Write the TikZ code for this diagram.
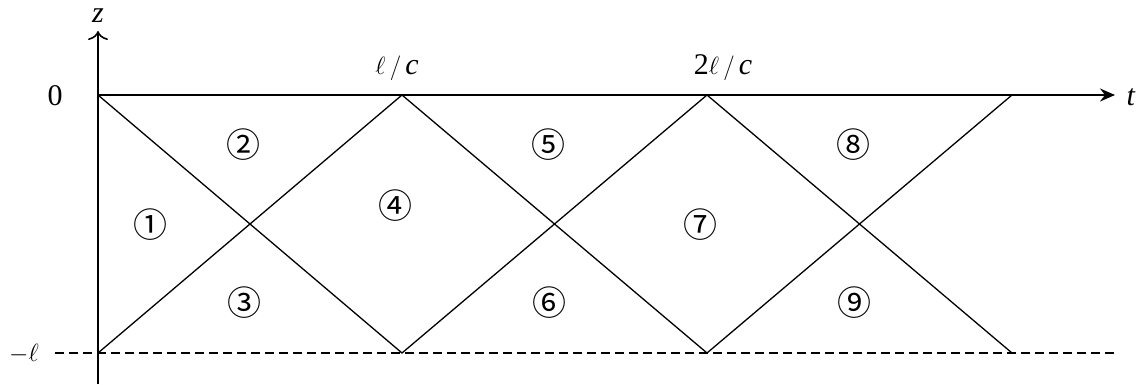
\documentclass[tikz,border=0pt]{standalone}
\usepackage{fontspec}
\setmainfont{Liberation Serif}
\newfontfamily\circfont{Noto Sans CJK SC}
\usetikzlibrary{arrows.meta}
\begin{document}
\begin{tikzpicture}[x=1pt,y=-1pt,
  axis/.style={line width=1.6pt},
  ray/.style={line width=1.3pt},
  circ/.style={font=\circfont\fontsize{34}{34}\selectfont, inner sep=0pt},
  lab/.style={font=\fontsize{30}{30}\selectfont, inner sep=0pt}]
\useasboundingbox (0,0) rectangle (1138,385);
% coordinates
\coordinate (O) at (98,95);
\coordinate (B0) at (98,353);
\coordinate (T1) at (402,95);
\coordinate (T2) at (707,95);
\coordinate (T3) at (1012,95);
\coordinate (B1) at (402,353);
\coordinate (B2) at (707,353);
\coordinate (B3) at (1012,353);
\coordinate (zb) at (98,384);
\coordinate (zt) at (98,31);
\coordinate (te) at (1115,95);
\coordinate (ds) at (55,353);
\coordinate (de) at (1115,353);
% axes
\draw[axis,-{To[length=9pt,width=20pt]}] (zb) -- (zt);
\draw[axis,-{Stealth[length=15pt,width=13pt,inset=5pt]}] (O) -- (te);
\draw[line width=1.2pt,dash pattern=on 9pt off 5pt] (ds) -- (de);
% rays
\draw[ray] (O) -- (B1) -- (T2) -- (B3);
\draw[ray] (B0) -- (T1) -- (B2) -- (T3);
% labels
\node[lab] (lz) at (98,16) {\textit{z}};
\node[lab] (lt) at (1131,97) {\textit{t}};
\node[lab] (l0) at (55,96) {0};
\node[lab] (ll) at (24,354) {$-\ell$};
\node[lab] (lc1) at (397,68) {$\ell\,/\,\textit{c}$};
\node[lab] (lc2) at (723,68) {2$\ell\,/\,\textit{c}$};
\node[circ] (r1) at (150,225) {①};
\node[circ] (r2) at (243,145) {②};
\node[circ] (r3) at (244,303) {③};
\node[circ] (r4) at (395,206) {④};
\node[circ] (r5) at (548,145) {⑤};
\node[circ] (r6) at (549,303) {⑥};
\node[circ] (r7) at (700,225) {⑦};
\node[circ] (r8) at (853,145) {⑧};
\node[circ] (r9) at (854,303) {⑨};
\end{tikzpicture}
\end{document}
